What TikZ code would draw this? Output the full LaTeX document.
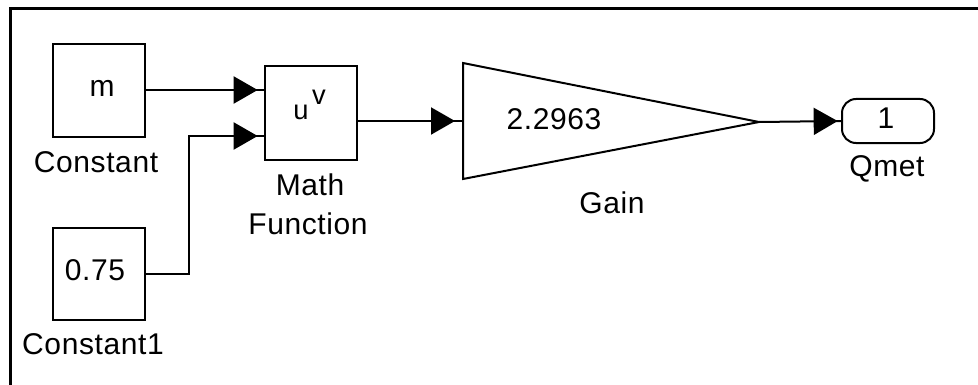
\documentclass[tikz,border=0pt]{standalone}
\usepackage{fontspec}
\setmainfont{Liberation Sans}
\usetikzlibrary{arrows.meta,decorations.markings}

\tikzset{
  blk/.style={draw, line width=1.5pt, minimum width=69pt, minimum height=69pt, inner sep=0pt},
  lbl/.style={anchor=base, inner sep=0pt, font=\fontsize{22.5pt}{27pt}\selectfont\addfontfeature{LetterSpace=2}},
  sig/.style={line width=1.5pt, postaction={decorate}, decoration={markings,
      mark=at position -#1 with {\arrow{Triangle[length=18pt,width=20.25pt]}}}},
  sig/.default=5.5pt,
}

\begin{document}
\begin{tikzpicture}[x=0.75pt, y=-0.75pt]
\useasboundingbox (0,0) rectangle (978,385);

% model window frame (top and left edges)
\draw[line width=2.25pt] (10,385) -- (10,8.5) -- (978,8.5);

% source blocks
\node[blk] (c0) at (99,90.5) {};
\node[blk] (c1) at (99,273.5) {};
\node[lbl] at (102,97) {m};
\node[lbl] at (95,280) {0.75};
\node[lbl] at (96,172) {Constant};
\node[lbl] at (93,354) {Constant1};

% math function block with two input ports
\node[blk, minimum width=69pt, minimum height=70.5pt] (mf) at (311,113) {};
\coordinate (mfin1) at (265,90);
\coordinate (mfin2) at (265,136);
\node[lbl, font=\fontsize{20.5pt}{24pt}\selectfont] at (301,119) {u};
\node[lbl, font=\fontsize{20.5pt}{24pt}\selectfont] at (319,104) {v};
\node[lbl] at (310,195) {Math};
\node[lbl] at (308,234) {Function};

% gain block
\coordinate (gtop) at (463,63);
\coordinate (gbot) at (463,179);
\coordinate (gout) at (759,122);
\coordinate (gin) at (463,121);
\draw[line width=1.5pt] (gtop) -- (gout) -- (gbot) -- cycle;
\node[lbl] at (554,129) {2.2963};
\node[lbl] at (612,213) {Gain};

% output port
\node[draw, line width=1.5pt, rounded corners=10.5pt, minimum width=69pt,
      minimum height=33pt, inner sep=0pt] (out) at (888,121) {};
\node[lbl] at (886,128) {1};
\node[lbl] at (887,176) {Qmet};

% signal lines
\draw[sig] (c0.east |- mfin1) -- (mfin1);
\draw[sig] (c1.east) -| (189,136) -- (mfin2);
\draw[sig=6pt] (mf.east |- gin) -- (gin);
\draw[sig=2.5pt] (gout) -- (out.west);
\end{tikzpicture}
\end{document}
